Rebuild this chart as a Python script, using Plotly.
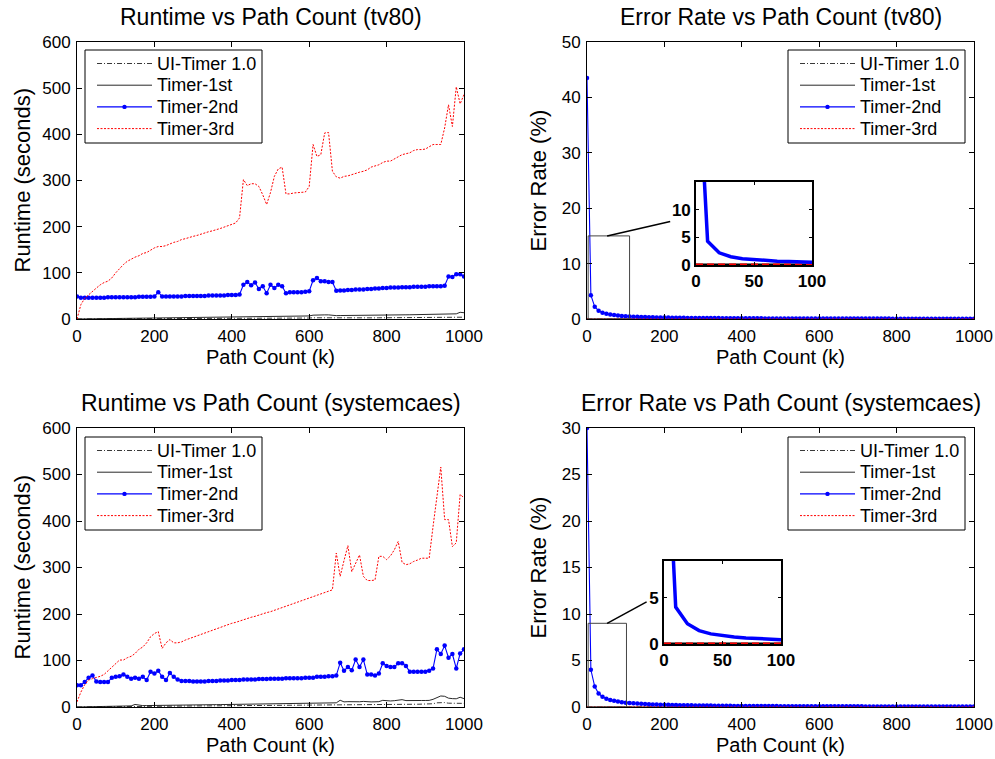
import plotly.graph_objects as go

# ---------------------------------------------------------------- data
PATH_K = list(range(0, 1001, 10))          # path count (k)
SERIES = ["UI-Timer 1.0", "Timer-1st", "Timer-2nd", "Timer-3rd"]
X_TICKS = [0, 200, 400, 600, 800, 1000]
RUNTIME_TICKS = [0, 100, 200, 300, 400, 500, 600]
ERR_TICKS_TV80 = [0, 10, 20, 30, 40, 50]
ERR_TICKS_SYS = [0, 5, 10, 15, 20, 25, 30]

# runtime (seconds), tv80
TV80_UI = [0.0, 0.1, 0.1, 0.2, 0.2, 0.2, 0.3, 0.3, 0.3, 0.4,
           0.4, 0.4, 0.5, 0.5, 0.5, 0.6, 0.6, 0.6, 0.7, 0.7,
           0.8, 0.8, 0.8, 0.9, 0.9, 0.9, 1.0, 1.0, 1.0, 1.1,
           1.1, 1.1, 1.2, 1.2, 1.3, 1.3, 1.3, 1.4, 1.4, 1.4,
           1.5, 1.5, 1.5, 1.9, 2.0, 1.9, 1.9, 1.8, 1.7, 1.7,
           1.9, 2.0, 2.1, 2.1, 1.9, 1.9, 1.9, 2.0, 2.0, 2.0,
           2.1, 2.6, 2.5, 2.5, 2.7, 2.7, 2.3, 2.2, 2.2, 2.3,
           2.3, 2.3, 2.4, 2.4, 2.4, 2.5, 2.5, 2.5, 2.6, 2.6,
           2.6, 2.7, 2.7, 2.7, 2.8, 2.8, 2.8, 2.9, 2.9, 2.9,
           3.0, 3.0, 3.0, 3.1, 3.1, 3.2, 3.4, 3.3, 3.5, 4.2, 3.9]
TV80_1ST = [0.0, 0.1, 0.2, 0.3, 0.5, 0.5, 0.6, 0.7, 0.9, 0.9,
            1.0, 1.1, 1.3, 1.3, 1.4, 1.6, 1.6, 1.7, 1.9, 1.9,
            2.0, 2.3, 2.2, 2.4, 2.5, 2.6, 2.7, 2.9, 2.9, 3.0,
            3.1, 3.3, 3.3, 3.4, 3.6, 3.6, 3.7, 3.9, 3.9, 4.0,
            4.1, 4.3, 4.4, 5.6, 5.9, 5.6, 5.8, 5.3, 5.2, 4.9,
            5.6, 6.0, 6.3, 6.3, 5.7, 5.9, 6.0, 6.1, 6.3, 6.3,
            6.6, 8.3, 8.0, 8.1, 8.9, 8.9, 7.4, 7.3, 7.5, 7.5,
            7.7, 7.7, 7.9, 7.9, 8.0, 8.2, 8.2, 8.3, 8.5, 8.5,
            8.6, 8.8, 8.8, 8.9, 9.1, 9.1, 9.2, 9.4, 9.4, 9.5,
            9.6, 9.8, 9.8, 9.9, 10.1, 10.2, 10.5, 10.6, 11.2, 14.5, 13.6]
TV80_2ND = [49, 46, 46, 46, 46, 46, 46, 46, 47, 47,
            47, 47, 47, 47, 47, 47, 48, 48, 48, 48,
            49, 58, 49, 49, 49, 49, 49, 49, 50, 50,
            50, 50, 50, 50, 51, 51, 51, 51, 51, 52,
            52, 52, 53, 74, 80, 73, 79, 65, 71, 56,
            74, 67, 74, 71, 56, 58, 58, 58, 58, 59,
            60, 84, 89, 82, 82, 80, 80, 61, 62, 62,
            63, 63, 64, 64, 64, 65, 65, 66, 66, 67,
            67, 68, 68, 68, 69, 69, 69, 70, 70, 70,
            70, 71, 71, 71, 71, 72, 92, 91, 97, 97, 92]
TV80_3RD = [0, 31, 45, 53, 60, 67, 74, 79, 82, 89,
            100, 110, 118, 125, 130, 134, 137, 142, 144, 149,
            154, 157, 157, 159, 163, 166, 168, 172, 174, 177,
            179, 181, 184, 186, 189, 191, 193, 196, 199, 202,
            204, 208, 219, 302, 289, 293, 293, 287, 269, 248,
            274, 309, 325, 329, 271, 271, 273, 274, 275, 275,
            287, 378, 352, 356, 403, 404, 320, 308, 305, 309,
            310, 313, 315, 318, 320, 323, 329, 332, 334, 339,
            342, 342, 347, 352, 356, 358, 360, 365, 367, 367,
            368, 373, 378, 378, 378, 414, 464, 417, 503, 466, 486]

# runtime (seconds), systemcaes
SYS_UI = [0.0, 0.1, 0.2, 0.3, 0.3, 0.4, 0.5, 0.6, 0.6, 0.7,
          0.8, 0.9, 0.9, 1.0, 1.1, 2.0, 1.5, 1.3, 1.4, 1.5,
          1.5, 1.6, 1.6, 1.7, 1.8, 1.8, 1.9, 2.0, 2.0, 2.1,
          2.2, 2.2, 2.3, 2.4, 2.4, 2.5, 2.6, 2.6, 2.7, 2.8,
          2.8, 2.9, 3.0, 3.0, 3.1, 3.2, 3.2, 3.3, 3.4, 3.4,
          3.5, 3.6, 3.6, 3.7, 3.8, 3.8, 3.9, 4.0, 4.0, 4.1,
          4.2, 4.2, 4.3, 4.4, 4.4, 4.5, 4.6, 4.6, 5.8, 5.0,
          5.1, 5.0, 5.4, 5.1, 5.3, 5.0, 5.0, 5.1, 5.2, 5.9,
          5.7, 5.6, 5.8, 6.0, 6.5, 5.9, 5.8, 5.9, 5.9, 6.0,
          6.0, 6.1, 7.0, 9.0, 10.0, 9.5, 8.2, 7.9, 7.7, 8.8, 7.8]
SYS_1ST = [0.0, 0.2, 0.4, 0.5, 0.7, 0.9, 1.0, 1.2, 1.4, 1.5,
           1.7, 1.9, 2.0, 2.2, 2.4, 5.5, 4.0, 3.0, 3.1, 3.3,
           3.6, 3.7, 3.6, 3.8, 3.9, 4.0, 4.1, 4.2, 4.3, 4.4,
           4.5, 4.6, 4.7, 4.8, 4.9, 5.0, 5.1, 5.2, 5.3, 5.4,
           5.5, 5.6, 5.7, 5.8, 5.9, 6.0, 6.1, 6.3, 6.4, 6.5,
           6.6, 6.8, 6.9, 7.0, 7.1, 7.3, 7.4, 7.5, 7.7, 7.8,
           7.9, 8.1, 8.2, 8.4, 8.5, 8.7, 8.8, 9.0, 14.5, 11.0,
           11.5, 11.2, 12.5, 11.3, 12.0, 11.0, 11.0, 11.2, 11.5, 14.3,
           13.5, 13.0, 13.6, 14.2, 15.8, 13.8, 13.5, 13.6, 13.8, 14.0,
           14.0, 14.2, 16.5, 20.0, 23.7, 23.0, 19.0, 18.0, 17.7, 21.0, 18.0]
SYS_2ND = [47, 47, 54, 63, 68, 55, 54, 54, 54, 63,
           65, 66, 70, 65, 61, 63, 61, 65, 58, 76,
           72, 78, 65, 58, 73, 65, 59, 56, 56, 56,
           55, 55, 55, 55, 56, 56, 56, 57, 57, 57,
           58, 58, 58, 59, 59, 59, 59, 60, 60, 60,
           61, 61, 61, 61, 62, 62, 62, 62, 62, 63,
           63, 63, 65, 65, 65, 66, 66, 68, 95, 78,
           86, 79, 102, 86, 102, 70, 70, 68, 72, 94,
           88, 86, 86, 94, 94, 88, 76, 76, 76, 76,
           76, 78, 83, 124, 114, 132, 106, 114, 83, 115, 124]
SYS_3RD = [11, 32, 48, 58, 61, 63, 66, 70, 78, 86,
           95, 101, 101, 106, 109, 115, 124, 129, 138, 151,
           158, 162, 126, 138, 145, 138, 138, 140, 144, 147,
           151, 154, 157, 159, 162, 165, 168, 171, 174, 177,
           180, 182, 185, 188, 190, 193, 195, 198, 200, 203,
           205, 208, 211, 214, 216, 219, 222, 225, 228, 231,
           234, 237, 240, 244, 246, 249, 252, 331, 281, 315,
           347, 291, 310, 327, 281, 272, 272, 273, 324, 324,
           317, 325, 338, 356, 311, 306, 308, 313, 316, 320,
           320, 320, 388, 453, 516, 403, 403, 345, 353, 457, 450]

# error rate (%) of Timer-2nd; the other timers are exact (0 %)
ERR_TV80_2ND = [43.5, 4.3, 2.2, 1.5, 1.15, 0.95, 0.8, 0.7, 0.62, 0.56,
                0.5, 0.46, 0.42, 0.39, 0.36, 0.34, 0.32, 0.3, 0.28, 0.27,
                0.26, 0.25, 0.24, 0.23, 0.22, 0.21, 0.2, 0.2, 0.19, 0.18,
                0.18, 0.17, 0.17, 0.16, 0.16, 0.15, 0.15, 0.14, 0.14, 0.14,
                0.13, 0.13, 0.13, 0.12, 0.12, 0.12, 0.11, 0.11, 0.11, 0.11,
                0.1, 0.1, 0.1, 0.1, 0.1, 0.09, 0.09, 0.09, 0.09, 0.09,
                0.09, 0.08, 0.08, 0.08, 0.08, 0.08, 0.08, 0.08, 0.08, 0.07,
                0.07, 0.07, 0.07, 0.07, 0.07, 0.07, 0.07, 0.07, 0.07, 0.06,
                0.06, 0.06, 0.06, 0.06, 0.06, 0.06, 0.06, 0.06, 0.06, 0.06,
                0.06, 0.06, 0.05, 0.05, 0.05, 0.05, 0.05, 0.05, 0.05, 0.05, 0.05]
ERR_SYS_2ND = [30.0, 4.0, 2.2, 1.45, 1.1, 0.9, 0.76, 0.66, 0.58, 0.52,
               0.47, 0.43, 0.4, 0.37, 0.34, 0.32, 0.3, 0.28, 0.27, 0.25,
               0.24, 0.23, 0.22, 0.21, 0.2, 0.19, 0.18, 0.18, 0.17, 0.16,
               0.16, 0.15, 0.15, 0.14, 0.14, 0.13, 0.13, 0.13, 0.12, 0.12,
               0.12, 0.11, 0.11, 0.11, 0.11, 0.1, 0.1, 0.1, 0.1, 0.1,
               0.09, 0.09, 0.09, 0.09, 0.09, 0.09, 0.08, 0.08, 0.08, 0.08,
               0.08, 0.08, 0.08, 0.07, 0.07, 0.07, 0.07, 0.07, 0.07, 0.07,
               0.07, 0.07, 0.06, 0.06, 0.06, 0.06, 0.06, 0.06, 0.06, 0.06,
               0.06, 0.06, 0.06, 0.06, 0.05, 0.05, 0.05, 0.05, 0.05, 0.05,
               0.05, 0.05, 0.05, 0.05, 0.05, 0.05, 0.05, 0.05, 0.05, 0.05, 0.05]
ERR_EXACT = [0.0] * len(PATH_K)

INSET_N = 11               # insets zoom into 0..100k paths
INSET_X_TICKS = [0, 50, 100]

# ---------------------------------------------------------------- style
W, H = 995, 759
FONT = "Liberation Sans, Arial, Helvetica, sans-serif"
BLUE, RED = "#0000ff", "#ff0000"

LINE_STYLE = {
    "UI-Timer 1.0": dict(color="#222222", width=0.9, dash="5px,2px,1px,2px"),
    "Timer-1st": dict(color="#111111", width=0.9),
    "Timer-2nd": dict(color=BLUE, width=1.1),
    "Timer-3rd": dict(color=RED, width=1.0, dash="2px,1.5px"),
}


def fx(p):
    return p / W


def fy(p):
    return 1 - p / H


fig = go.Figure()


def add_series(xa, ya, values):
    for name, vals in zip(SERIES, values):
        if name == "Timer-2nd":
            kw = dict(mode="lines+markers", marker=dict(size=4.5, color=BLUE))
        else:
            kw = dict(mode="lines")
        fig.add_trace(go.Scatter(
            x=PATH_K, y=vals, name=name, line=LINE_STYLE[name],
            xaxis=xa, yaxis=ya, showlegend=False, **kw))


add_series("x", "y", [TV80_UI, TV80_1ST, TV80_2ND, TV80_3RD])
add_series("x2", "y2", [ERR_EXACT, ERR_EXACT, ERR_TV80_2ND, ERR_EXACT])
add_series("x3", "y3", [SYS_UI, SYS_1ST, SYS_2ND, SYS_3RD])
add_series("x4", "y4", [ERR_EXACT, ERR_EXACT, ERR_SYS_2ND, ERR_EXACT])


def add_inset(xa, ya, err):
    xs = PATH_K[:INSET_N]
    fig.add_trace(go.Scatter(x=xs, y=ERR_EXACT[:INSET_N], mode="lines",
                             line=dict(color="black", width=3),
                             xaxis=xa, yaxis=ya, showlegend=False))
    fig.add_trace(go.Scatter(x=xs, y=ERR_EXACT[:INSET_N], mode="lines",
                             line=dict(color=RED, width=3, dash="7px,4px"),
                             xaxis=xa, yaxis=ya, showlegend=False))
    fig.add_trace(go.Scatter(x=xs, y=err[:INSET_N], mode="lines",
                             line=dict(color=BLUE, width=3.5),
                             xaxis=xa, yaxis=ya, showlegend=False))


add_inset("x5", "y5", ERR_TV80_2ND)
add_inset("x6", "y6", ERR_SYS_2ND)

# ---------------------------------------------------------------- axes
tick_font = dict(family=FONT, size=17, color="black")
base_axis = dict(showline=True, linecolor="black", linewidth=1, mirror="ticks",
                 ticks="inside", ticklen=5, tickcolor="black", tickwidth=1,
                 showgrid=False, zeroline=False, tickfont=tick_font,
                 automargin=False, ticklabelstandoff=2)

LEFT = (77, 464)
RIGHT = (587, 974)
TOP = (42, 319)
BOTTOM = (428, 707)


def dom_x(px):
    return [fx(px[0]), fx(px[1])]


def dom_y(py):
    return [fy(py[1]), fy(py[0])]


def xaxis(px, anchor):
    return dict(base_axis, domain=dom_x(px), anchor=anchor, range=[0, 1000],
                tickvals=X_TICKS)


def yaxis(py, anchor, rng, ticks):
    return dict(base_axis, domain=dom_y(py), anchor=anchor, range=rng, tickvals=ticks)


inset_font = dict(family=FONT, size=17, color="black", weight="bold")
inset_axis = dict(showline=True, linecolor="black", linewidth=1.6, mirror="ticks",
                  ticks="inside", ticklen=3, tickcolor="black", showgrid=False,
                  zeroline=False, tickfont=inset_font, automargin=False)

fig.update_layout(
    xaxis=xaxis(LEFT, "y"),
    yaxis=yaxis(TOP, "x", [0, 600], RUNTIME_TICKS),
    xaxis2=xaxis(RIGHT, "y2"),
    yaxis2=yaxis(TOP, "x2", [0, 50], ERR_TICKS_TV80),
    xaxis3=xaxis(LEFT, "y3"),
    yaxis3=yaxis(BOTTOM, "x3", [0, 600], RUNTIME_TICKS),
    xaxis4=xaxis(RIGHT, "y4"),
    yaxis4=yaxis(BOTTOM, "x4", [0, 30], ERR_TICKS_SYS),
    xaxis5=dict(inset_axis, domain=dom_x((696, 812)), anchor="y5", range=[0, 100],
                tickvals=INSET_X_TICKS),
    yaxis5=dict(inset_axis, domain=dom_y((182, 265)), anchor="x5", range=[0, 15],
                tickvals=[0, 5, 10]),
    xaxis6=dict(inset_axis, domain=dom_x((664, 781)), anchor="y6", range=[0, 100],
                tickvals=INSET_X_TICKS),
    yaxis6=dict(inset_axis, domain=dom_y((561, 644)), anchor="x6", range=[0, 9],
                tickvals=[0, 5]),
)


def text(s, x, y, size, angle=0, anchor="center"):
    fig.add_annotation(text=s, x=fx(x), y=fy(y), xref="paper", yref="paper",
                       showarrow=False, xanchor=anchor, yanchor="middle",
                       textangle=angle, borderpad=0,
                       font=dict(family=FONT, size=size, color="black"))


# ---------------------------------------------------------------- titles
panels = [
    (LEFT, TOP, "Runtime vs Path Count (tv80)", "Runtime (seconds)", 22),
    (RIGHT, TOP, "Error Rate vs Path Count (tv80)", "Error Rate (%)", 538),
    (LEFT, BOTTOM, "Runtime vs Path Count (systemcaes)", "Runtime (seconds)", 22),
    (RIGHT, BOTTOM, "Error Rate vs Path Count (systemcaes)", "Error Rate (%)", 538),
]
for (x0, x1), (y0, y1), title, ytitle, ytx in panels:
    cx, cy = (x0 + x1) / 2, (y0 + y1) / 2
    text(title, cx, y0 - 25, 23)
    text("Path Count (k)", cx, y1 + 38, 20)
    text(ytitle, ytx, cy, 22, angle=-90)

# ---------------------------------------------------------------- legends
LEG_W, LEG_H, LEG_ROW = 177, 93, 21.7


def legend_box(left, top):
    fig.add_shape(type="rect", xref="paper", yref="paper",
                  x0=fx(left), x1=fx(left + LEG_W), y0=fy(top), y1=fy(top + LEG_H),
                  line=dict(color="black", width=1), fillcolor="white", layer="above")
    for i, name in enumerate(SERIES):
        yy = top + 13.5 + LEG_ROW * i
        fig.add_shape(type="line", xref="paper", yref="paper",
                      x0=fx(left + 12), x1=fx(left + 67), y0=fy(yy), y1=fy(yy),
                      line=LINE_STYLE[name], layer="above")
        if name == "Timer-2nd":
            cx = left + 39.5
            fig.add_shape(type="circle", xref="paper", yref="paper",
                          x0=fx(cx - 2.2), x1=fx(cx + 2.2),
                          y0=fy(yy + 2.2), y1=fy(yy - 2.2),
                          line=dict(color=BLUE, width=0), fillcolor=BLUE,
                          layer="above")
        text(name, left + 71, yy, 18, anchor="left")


legend_box(85, 50)
legend_box(788, 50)
legend_box(85, 437)
legend_box(788, 437)

# zoom box and leader line pointing at each inset
for xa, ya, x1, y1, lx, ly in [("x2", "y2", 110, 15, 215, 17.6),
                               ("x4", "y4", 102, 9, 154, 11.3)]:
    fig.add_shape(type="rect", xref=xa, yref=ya, x0=3, x1=x1, y0=0, y1=y1,
                  line=dict(color="#444444", width=1))
    fig.add_shape(type="line", xref=xa, yref=ya, x0=52, y0=y1, x1=lx, y1=ly,
                  line=dict(color="black", width=1.5))

fig.update_layout(
    template="none",
    width=W, height=H, margin=dict(l=0, r=0, t=0, b=0, pad=0),
    paper_bgcolor="white", plot_bgcolor="white",
    font=dict(family=FONT, color="black"),
    showlegend=False, hovermode=False,
)

fig.write_html("out.html")
